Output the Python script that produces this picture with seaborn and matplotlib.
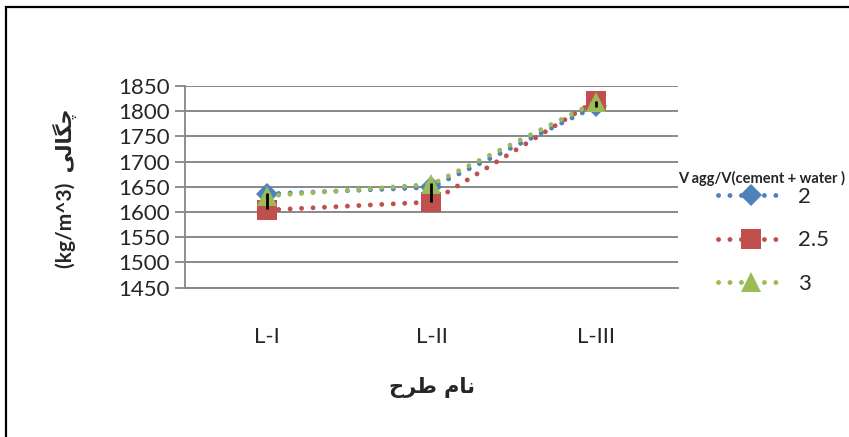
import matplotlib
matplotlib.use("Agg")
import matplotlib.pyplot as plt
import seaborn as sns
import pandas as pd
from matplotlib.patches import Rectangle

# ---- data ----
categories = ["L-I", "L-II", "L-III"]
series_labels = ["2", "2.5", "3"]
vals_2 = [1636, 1649, 1810]
vals_25 = [1604, 1620, 1821]
vals_3 = [1632, 1655, 1818]
err_low = [1606, 1620, 1808]
err_high = [1638, 1657, 1821]
y_ticks = [1450, 1500, 1550, 1600, 1650, 1700, 1750, 1800, 1850]

# Persian texts (Arabic presentation forms, visual order)
ylabel_fa = "\uFBFD\uFEDF\uFE8E\uFB95\uFB7C"        # چگالی
xlabel_fa = "\uFEA1\uFEAE\uFEC3 \uFEE1\uFE8E\uFEE7"  # نام طرح
legend_title = "V agg/V(cement + water )"

colors = ["#4F81BD", "#C0504D", "#9BBB59"]
markers = ["D", "s", "^"]
msizes = [11, 14, 14.5]

sns.set_theme(style="white")
plt.rcParams["font.family"] = ["Lato", "DejaVu Sans"]

W, H = 849, 437
fig = plt.figure(figsize=(W / 100, H / 100), dpi=100)
ax = fig.add_axes([185 / W, 1 - 287.7 / H, (678 - 185) / W, (287.7 - 86) / H])

df = pd.DataFrame({"cat": categories, "a": vals_2, "b": vals_25, "c": vals_3})
for col, lab, c, m, ms in zip(["a", "b", "c"], series_labels, colors, markers, msizes):
    sns.lineplot(data=df, x="cat", y=col, ax=ax, label=lab, color=c,
                 marker=m, markersize=ms, markeredgewidth=0, linewidth=3.5,
                 linestyle=(0, (0.01, 2.35)), dash_capstyle="round", sort=False)

ax.vlines(range(len(categories)), err_low, err_high, colors="black", linewidth=2, zorder=5)

ax.set_xlim(-0.5, 2.5)
ax.set_ylim(1450, 1850)
ax.set_yticks(y_ticks)
ax.set_yticklabels([str(t) for t in y_ticks], fontsize=16)
ax.tick_params(axis="y", which="both", direction="out", length=7, width=1.3,
               color="#868686", left=True, pad=4)
ax.tick_params(axis="x", length=0, labelsize=16, pad=28)
ax.grid(axis="y", color="#898989", linewidth=1.4)
ax.grid(axis="x", visible=False)
for s in ["top", "right"]:
    ax.spines[s].set_visible(False)
ax.spines["left"].set_color("#868686")
ax.spines["left"].set_linewidth(1.3)
ax.spines["bottom"].set_color("#898989")
ax.spines["bottom"].set_linewidth(1.4)
ax.set_xlabel("")
ax.set_ylabel("")

# axis titles
fig.text(65 / W, 1 - 188 / H, "(kg/m^3)  " + ylabel_fa, rotation=90,
         ha="center", va="center", fontsize=15, fontweight="bold",
         family=["Lato", "DejaVu Sans"])
fig.text(432 / W, 1 - 387 / H, xlabel_fa, ha="center", va="center",
         fontsize=15, fontweight="bold", family=["DejaVu Sans"])

# legend
handles, labels = ax.get_legend_handles_labels()
ax.legend(handles, labels, loc="upper left", bbox_to_anchor=(718 / W, 1 - 187 / H),
          bbox_transform=fig.transFigure, frameon=False, fontsize=16,
          handlelength=3.0, handletextpad=0.6, labelspacing=1.05, borderpad=0,
          borderaxespad=0)
fig.text(678 / W, 1 - 178 / H, legend_title, ha="left", va="center",
         fontsize=10.5, fontweight="bold")

# outer frame
fig.patches.append(Rectangle((6 / W, -0.05), 1.2, 1 - 7 / H + 0.05,
                             transform=fig.transFigure, fill=False,
                             edgecolor="black", linewidth=1.6, zorder=0))

fig.savefig("out.png", dpi=100)
